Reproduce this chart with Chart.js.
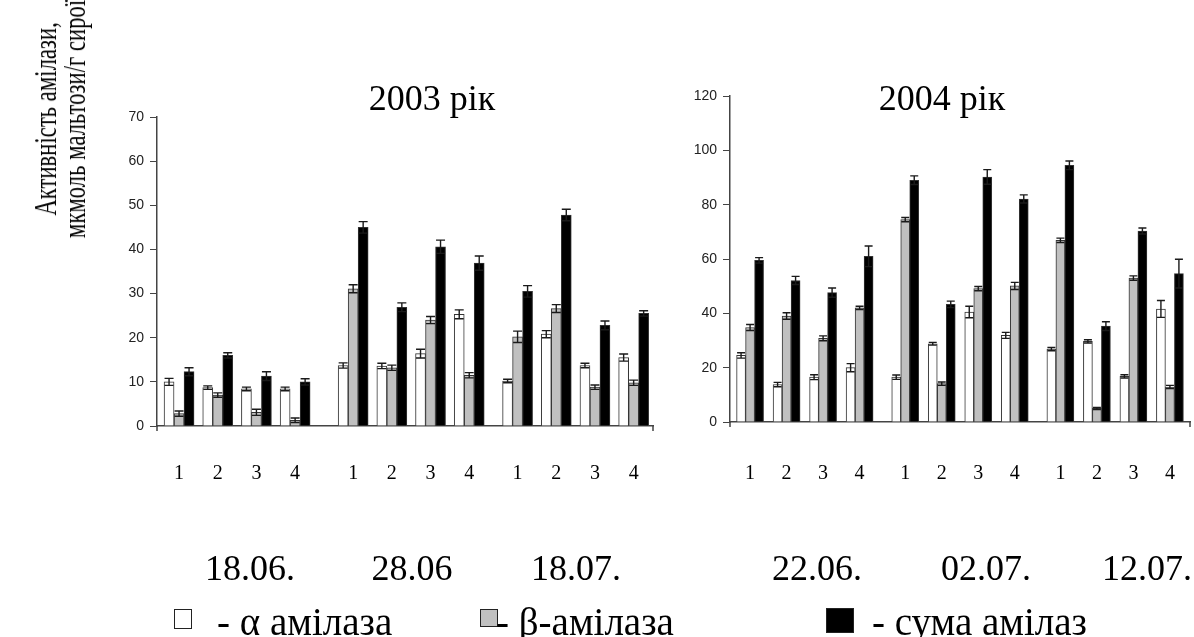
<!DOCTYPE html>
<html lang="uk">
<head>
    <meta charset="UTF-8">
    <title>Активність амілази</title>
    <style>
        body {
            margin: 0;
            padding: 0;
            background-color: #fff;
            font-family: "Liberation Serif", "Times New Roman", serif;
            color: #000;
        }

        .page {
            position: relative;
            width: 1194px;
            height: 637px;
            overflow: hidden;
        }

        .page canvas {
            position: absolute;
            top: 0;
        }

        .txt {
            position: absolute;
            white-space: nowrap;
            line-height: 1;
        }

        .title { font-size: 36px; top: 80px; transform: translateX(-50%); }
        .date { font-size: 36px; top: 550px; transform: translateX(-50%); }

        /* rotated axis title, narrow face */
        .ytitle {
            position: absolute;
            left: 60px;
            top: 119px;
            font-size: 32px;
            line-height: 29px;
            text-align: center;
            white-space: nowrap;
            transform: translate(-50%, -50%) rotate(-90deg) scaleX(0.71);
        }

        .legend { top: 602px; font-size: 39px; }
        .box {
            position: absolute;
            border: 1.5px solid #222;
            box-sizing: border-box;
        }
    </style>
    <script src="https://cdn.jsdelivr.net/npm/chart.js"></script>
</head>
<body>
<div class="page">
    <canvas id="chart2003" width="680" height="637" style="left:0"></canvas>
    <canvas id="chart2004" width="514" height="637" style="left:680px"></canvas>

    <div class="ytitle">Активність амілази,<br>мкмоль мальтози/г сирої</div>

    <div class="txt title" style="left:432px">2003 рік</div>
    <div class="txt title" style="left:942px">2004 рік</div>

    <div class="txt date" style="left:250px">18.06.</div>
    <div class="txt date" style="left:412px">28.06</div>
    <div class="txt date" style="left:576px">18.07.</div>
    <div class="txt date" style="left:817px">22.06.</div>
    <div class="txt date" style="left:986px">02.07.</div>
    <div class="txt date" style="left:1147px">12.07.</div>

    <div class="box" style="left:174px; top:609px; width:18px; height:20px; background:#fff"></div>
    <div class="txt legend" style="left:217px">- α амілаза</div>
    <div class="box" style="left:480px; top:609px; width:18px; height:18px; background:#c0c0c0"></div>
    <div class="txt legend" style="left:496px">- β-амілаза</div>
    <div class="box" style="left:826px; top:608px; width:28px; height:25px; background:#000"></div>
    <div class="txt legend" style="left:872px">- сума амілаз</div>
</div>

<script>
    // variant numbers under each bar group
    const groupLabels = ['1', '2', '3', '4', '1', '2', '3', '4', '1', '2', '3', '4'];

    // 2003: 18.06., 28.06, 18.07.
    const alpha2003    = [10.0, 8.7, 8.4, 8.4, 13.7, 13.6, 16.4, 25.3, 10.2, 20.8, 13.7, 15.5];
    const alphaErr2003 = [0.8, 0.4, 0.4, 0.4, 0.6, 0.6, 1.0, 1.0, 0.4, 0.8, 0.5, 0.8];
    const beta2003     = [2.8, 7.0, 3.1, 1.3, 31.1, 13.2, 24.0, 11.5, 20.2, 26.6, 8.8, 9.8];
    const betaErr2003  = [0.6, 0.5, 0.7, 0.5, 0.9, 0.6, 0.8, 0.6, 1.3, 0.9, 0.5, 0.6];
    const sum2003      = [12.3, 16.0, 11.3, 10.0, 45.0, 26.9, 40.6, 36.9, 30.5, 47.8, 22.8, 25.5];
    const sumErr2003   = [0.9, 0.6, 1.0, 0.7, 1.3, 1.0, 1.5, 1.6, 1.3, 1.3, 1.0, 0.6];

    // 2004: 22.06., 02.07., 12.07.
    const alpha2004    = [24.5, 13.8, 16.5, 20.0, 16.5, 28.8, 40.5, 31.9, 26.8, 29.7, 16.8, 41.6];
    const alphaErr2004 = [1.0, 0.8, 0.9, 1.5, 0.8, 0.5, 2.1, 1.1, 0.6, 0.6, 0.6, 3.1];
    const beta2004     = [34.8, 39.0, 30.8, 42.0, 74.5, 14.1, 49.1, 50.1, 66.9, 5.0, 53.0, 12.9];
    const betaErr2004  = [1.1, 1.2, 0.9, 0.6, 0.8, 0.6, 0.8, 1.3, 0.8, 0.4, 0.8, 0.6];
    const sum2004      = [59.5, 52.1, 47.6, 61.0, 89.0, 43.3, 90.2, 82.1, 94.5, 35.3, 70.3, 54.6];
    const sumErr2004   = [1.0, 1.5, 1.7, 3.8, 1.6, 1.2, 2.7, 1.5, 1.6, 1.6, 1.1, 5.3];

    // extra space (in group widths) after each date block
    const dateGaps2003 = [0.5, 0.25];
    const dateGaps2004 = [0.25, 0.25];

    // group slot on the x axis: index plus the gaps of the blocks before it
    function groupSlots(gaps) {
        return groupLabels.map((_, i) => {
            let pos = i;
            for (let b = 0; b < Math.floor(i / 4); b++) pos += gaps[b];
            return pos;
        });
    }

    // draw the ± error bars on top of each bar
    const errorBars = {
        id: 'errorBars',
        afterDatasetsDraw(chart) {
            const ctx = chart.ctx;
            const yScale = chart.scales.y;
            ctx.save();
            ctx.strokeStyle = '#1a1a1a';
            ctx.lineWidth = 1.4;
            chart.data.datasets.forEach((ds, i) => {
                const meta = chart.getDatasetMeta(i);
                meta.data.forEach((bar, j) => {
                    const v = ds.data[j].y;
                    const e = ds.errors[j];
                    const yTop = yScale.getPixelForValue(v + e);
                    const yBot = yScale.getPixelForValue(Math.max(v - e, 0));
                    const half = bar.width / 2 - 0.5;
                    ctx.beginPath();
                    ctx.moveTo(bar.x, yTop);
                    ctx.lineTo(bar.x, yBot);
                    ctx.moveTo(bar.x - half, yTop);
                    ctx.lineTo(bar.x + half, yTop);
                    ctx.moveTo(bar.x - half, yBot);
                    ctx.lineTo(bar.x + half, yBot);
                    ctx.stroke();
                });
            });
            ctx.restore();
        }
    };

    // small tick marks hanging below both ends of the category axis
    const axisEnds = {
        id: 'axisEnds',
        afterDraw(chart) {
            const { ctx, chartArea } = chart;
            ctx.save();
            ctx.strokeStyle = '#444';
            ctx.lineWidth = 1.5;
            ctx.beginPath();
            [chartArea.left, chartArea.right].forEach(x => {
                ctx.moveTo(x, chartArea.bottom);
                ctx.lineTo(x, chartArea.bottom + 5);
            });
            ctx.stroke();
            ctx.restore();
        }
    };

    function makeChart(id, cfg) {
        const slots = groupSlots(cfg.gaps);
        const points = arr => arr.map((v, i) => ({ x: slots[i], y: v }));
        const series = (label, values, errors, fill) => ({
            label: label,
            data: points(values),
            errors: errors,
            backgroundColor: fill,
            borderColor: '#333',
            borderWidth: 1,
            borderSkipped: 'bottom',
            barThickness: cfg.barWidth
        });

        return new Chart(document.getElementById(id), {
            type: 'bar',
            data: {
                datasets: [
                    series('α амілаза', cfg.alpha, cfg.alphaErr, '#ffffff'),
                    series('β-амілаза', cfg.beta, cfg.betaErr, '#c0c0c0'),
                    series('сума амілаз', cfg.sum, cfg.sumErr, '#000000')
                ]
            },
            options: {
                responsive: false,
                animation: false,
                layout: { padding: cfg.padding },
                plugins: {
                    legend: { display: false },
                    tooltip: { enabled: false }
                },
                scales: {
                    x: {
                        type: 'linear',
                        offset: false,
                        min: cfg.xMin,
                        max: cfg.xMax,
                        grid: { display: false, drawTicks: false },
                        border: { display: true, color: '#444', width: 1.5 },
                        afterBuildTicks: axis => {
                            axis.ticks = slots.map(v => ({ value: v }));
                        },
                        afterFit: axis => {
                            axis.height = 60;
                            axis.paddingLeft = 0;
                            axis.paddingRight = 0;
                        },
                        ticks: {
                            autoSkip: false,
                            maxRotation: 0,
                            padding: cfg.labelPad,
                            color: '#000',
                            font: { family: '"Liberation Serif", "Times New Roman", serif', size: 20 },
                            callback: (value, index) => groupLabels[index]
                        }
                    },
                    y: {
                        min: 0,
                        max: cfg.yMax,
                        grid: { drawOnChartArea: false, tickLength: 7, color: '#444' },
                        border: { display: true, color: '#444', width: 1.5 },
                        afterFit: axis => { axis.width = cfg.yAxisWidth; },
                        ticks: {
                            stepSize: cfg.yStep,
                            padding: 6,
                            color: '#222',
                            font: { family: '"Liberation Sans", Arial, sans-serif', size: 14 }
                        }
                    }
                }
            },
            plugins: [errorBars, axisEnds]
        });
    }

    makeChart('chart2003', {
        alpha: alpha2003, alphaErr: alphaErr2003,
        beta: beta2003, betaErr: betaErr2003,
        sum: sum2003, sumErr: sumErr2003,
        gaps: dateGaps2003,
        barWidth: 10,
        xMin: -0.57, xMax: 12.25,
        yMax: 70, yStep: 10,
        yAxisWidth: 60,
        labelPad: 36,
        padding: { left: 97, top: 117, right: 27, bottom: 151 }
    });

    makeChart('chart2004', {
        alpha: alpha2004, alphaErr: alphaErr2004,
        beta: beta2004, betaErr: betaErr2004,
        sum: sum2004, sumErr: sumErr2004,
        gaps: dateGaps2004,
        barWidth: 9,
        xMin: -0.55, xMax: 12.05,
        yMax: 120, yStep: 20,
        yAxisWidth: 45,
        labelPad: 40,
        padding: { left: 5, top: 96, right: 4, bottom: 155 }
    });
</script>
</body>
</html>
